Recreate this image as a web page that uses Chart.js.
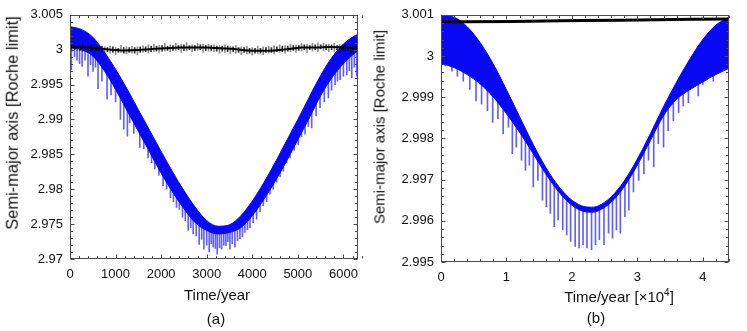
<!DOCTYPE html>
<html>
<head>
<meta charset="utf-8">
<script src="https://cdn.jsdelivr.net/npm/chart.js@4.4.0/dist/chart.umd.min.js"></script>
<style>
  body { margin: 0; background: #fff; width: 747px; height: 331px; position: relative; overflow: hidden;
         font-family: "Liberation Sans", Arial, Helvetica, sans-serif; color: #111; }
  canvas { position: absolute; top: 0; }
  .lbl { position: absolute; white-space: nowrap; transform: translate(-50%, -50%); line-height: 1; }
  .rot { transform: translate(-50%, -50%) rotate(-90deg); }
  sup { font-size: 10px; vertical-align: 6px; line-height: 0; }
</style>
</head>
<body>
<canvas id="chartA" width="370" height="331" style="left:0"></canvas>
<canvas id="chartB" width="377" height="331" style="left:370px"></canvas>

<div class="lbl rot" style="left:12px;top:123px;font-size:16.5px">Semi-major axis [Roche limit]</div>
<div class="lbl" style="left:217px;top:294px;font-size:15px">Time/year</div>
<div class="lbl" style="left:216px;top:318px;font-size:15px">(a)</div>

<div class="lbl rot" style="left:379px;top:127px;font-size:15px">Semi-major axis [Roche limit]</div>
<div class="lbl" style="left:619px;top:296px;font-size:15px">Time/year [×10<sup>4</sup>]</div>
<div class="lbl" style="left:596px;top:317px;font-size:15px">(b)</div>

<script>
// ---- panel (a): time in years ----
const xTicksA = [0, 1000, 2000, 3000, 4000, 5000, 6000];
const yTicksA = [2.97, 2.975, 2.98, 2.985, 2.99, 2.995, 3, 3.005];

// blue band, top and bottom edge of the dense part
const bandTimeA = [0, 250, 500, 750, 1000, 1250, 1500, 1750, 2000, 2250, 2500, 2750, 3000, 3250,
                   3500, 3750, 4000, 4250, 4500, 4750, 5000, 5250, 5500, 5750, 6000, 6250, 6320];
const bandTopA = [3.0033, 3.0029, 3.0018, 2.9997, 2.9972, 2.9944, 2.9914, 2.9884, 2.9854, 2.9825, 2.9798,
                  2.9774, 2.9755, 2.9747, 2.9749, 2.9762, 2.9783, 2.9809, 2.9838, 2.9869, 2.9900, 2.9932,
                  2.9963, 2.9989, 3.0008, 3.0020, 3.0022];
const bandLowA = [3.0004, 3.0000, 2.9991, 2.9970, 2.9943, 2.9913, 2.9883, 2.9853, 2.9823, 2.9796, 2.9772,
                  2.9752, 2.9741, 2.9736, 2.9738, 2.9745, 2.9762, 2.9785, 2.9811, 2.9840, 2.9871, 2.9902,
                  2.9934, 2.9960, 2.9980, 2.9995, 2.9998];

// blue downward spikes below the band
const spikeTimeA = [30, 100, 155, 210, 265, 330, 395, 450, 505, 560, 615, 700, 813, 900, 1000, 1106, 1180,
  1260, 1311, 1400, 1531, 1620, 1714, 1790, 1860, 1950, 2043, 2120, 2205, 2270, 2337, 2400, 2468, 2530,
  2593, 2650, 2703, 2770, 2835, 2890, 2938, 3000, 3055, 3100, 3143, 3190, 3231, 3280, 3326, 3375, 3421,
  3465, 3509, 3560, 3619, 3675, 3729, 3785, 3839, 3895, 3949, 4020, 4095, 4170, 4242, 4315, 4388, 4460,
  4535, 4610, 4681, 4750, 4828, 4920, 5011, 5080, 5157, 5230, 5304, 5400, 5487, 5580, 5670, 5740, 5817,
  5870, 5927, 6000, 6073, 6130, 6183, 6240, 6293];
const spikeLowA = [2.9971, 2.9990, 2.9985, 2.9980, 2.9976, 2.9985, 2.9962, 2.9978, 2.9969, 2.9975, 2.9944,
  2.9955, 2.9929, 2.9935, 2.9925, 2.9900, 2.9886, 2.9876, 2.9895, 2.9880, 2.9860, 2.9858, 2.9845, 2.9838,
  2.9829, 2.9820, 2.9805, 2.9800, 2.9788, 2.9782, 2.9774, 2.9771, 2.9760, 2.9755, 2.9741, 2.9745, 2.9736,
  2.9733, 2.9721, 2.9728, 2.9714, 2.9720, 2.9710, 2.9722, 2.9717, 2.9715, 2.9707, 2.9716, 2.9714, 2.9720,
  2.9719, 2.9725, 2.9714, 2.9722, 2.9717, 2.9726, 2.9729, 2.9732, 2.9738, 2.9742, 2.9745, 2.9752, 2.9757,
  2.9768, 2.9776, 2.9782, 2.9793, 2.9800, 2.9810, 2.9818, 2.9826, 2.9838, 2.9845, 2.9856, 2.9864, 2.9875,
  2.9879, 2.9890, 2.9888, 2.9905, 2.9917, 2.9925, 2.9931, 2.9942, 2.9950, 2.9955, 2.9957, 2.9962, 2.9964,
  2.9970, 2.9960, 2.9975, 2.9962];
const spikeHighA = [3.0007, 3.0006, 3.0005, 3.0004, 3.0004, 3.0002, 2.9999, 2.9997, 2.9995, 2.9990, 2.9985,
  2.9978, 2.9968, 2.9958, 2.9947, 2.9934, 2.9925, 2.9916, 2.9910, 2.9899, 2.9883, 2.9872, 2.9861, 2.9852,
  2.9844, 2.9833, 2.9823, 2.9814, 2.9805, 2.9799, 2.9792, 2.9786, 2.9780, 2.9774, 2.9769, 2.9764, 2.9760,
  2.9755, 2.9751, 2.9748, 2.9746, 2.9745, 2.9743, 2.9742, 2.9741, 2.9740, 2.9740, 2.9740, 2.9740, 2.9740,
  2.9741, 2.9741, 2.9742, 2.9743, 2.9745, 2.9747, 2.9749, 2.9752, 2.9755, 2.9759, 2.9763, 2.9768, 2.9775,
  2.9782, 2.9789, 2.9796, 2.9804, 2.9812, 2.9821, 2.9829, 2.9836, 2.9844, 2.9853, 2.9864, 2.9875, 2.9883,
  2.9893, 2.9902, 2.9911, 2.9923, 2.9934, 2.9945, 2.9954, 2.9962, 2.9969, 2.9974, 2.9979, 2.9984, 2.9988,
  2.9992, 2.9995, 2.9998, 3.0001];

// black curve: slow core, grey jitter and darker short jitter
const coreTimeA = [0, 300, 600, 900, 1200, 1500, 1800, 2100, 2400, 2700, 3000, 3300, 3600, 3900, 4200,
                   4500, 4800, 5100, 5400, 5700, 6000, 6320];
const coreA = [3.0003, 3.0003, 3.0002, 3.0000, 2.9999, 2.99995, 3.0001, 3.0002, 3.0003, 3.0003, 3.0003,
               3.0002, 3.0001, 2.9999, 2.99985, 2.9999, 3.0001, 3.0003, 3.0003, 3.0004, 3.0003, 3.0002];
const noiseTimeA = [40, 160, 280, 400, 520, 640, 760, 880, 1000, 1120, 1240, 1360, 1480, 1600, 1720, 1840,
  1960, 2080, 2200, 2320, 2440, 2560, 2680, 2800, 2920, 3040, 3160, 3280, 3400, 3520, 3640, 3760, 3880,
  4000, 4120, 4240, 4360, 4480, 4600, 4720, 4840, 4960, 5080, 5200, 5320, 5440, 5560, 5680, 5800, 5920,
  6040, 6160, 6280];
const noiseLowA = [2.9998, 2.9999, 2.9997, 3.0000, 2.9996, 2.9998, 2.9994, 2.9995, 2.9993, 2.9996, 2.9994,
  2.9995, 2.9993, 2.9996, 2.9995, 2.9997, 2.9996, 2.9998, 2.9997, 2.9999, 2.9996, 2.9998, 2.9997, 2.9999,
  2.9996, 2.9998, 2.9997, 2.9995, 2.9996, 2.9994, 2.9995, 2.9993, 2.9994, 2.9992, 2.9994, 2.9993, 2.9995,
  2.9994, 2.9996, 2.9995, 2.9997, 2.9996, 2.9998, 2.9996, 2.9998, 2.9997, 2.9999, 2.9997, 2.9998, 2.9996,
  2.9997, 2.9995, 2.9996];
const noiseHighA = [3.0007, 3.0006, 3.0008, 3.0006, 3.0007, 3.0005, 3.0004, 3.0005, 3.0003, 3.0006, 3.0004,
  3.0005, 3.0004, 3.0006, 3.0007, 3.0008, 3.0006, 3.0009, 3.0007, 3.0009, 3.0008, 3.0010, 3.0007, 3.0009,
  3.0008, 3.0008, 3.0007, 3.0006, 3.0007, 3.0005, 3.0006, 3.0004, 3.0005, 3.0003, 3.0005, 3.0004, 3.0005,
  3.0006, 3.0007, 3.0006, 3.0008, 3.0007, 3.0009, 3.0008, 3.0009, 3.0010, 3.0009, 3.0008, 3.0009, 3.0007,
  3.0008, 3.0006, 3.0007];
const jitterTimeA = [100, 220, 340, 460, 580, 700, 820, 940, 1060, 1180, 1300, 1420, 1540, 1660, 1780, 1900,
  2020, 2140, 2260, 2380, 2500, 2620, 2740, 2860, 2980, 3100, 3220, 3340, 3460, 3580, 3700, 3820, 3940,
  4060, 4180, 4300, 4420, 4540, 4660, 4780, 4900, 5020, 5140, 5260, 5380, 5500, 5620, 5740, 5860, 5980,
  6100, 6220];
const jitterLowA = [3.0000, 2.9999, 3.0000, 2.9998, 2.9999, 2.9997, 2.9997, 2.9996, 2.9996, 2.9995, 2.9996,
  2.9995, 2.9996, 2.9997, 2.9997, 2.9998, 2.9998, 2.9999, 2.9999, 3.0000, 2.9999, 3.0000, 2.9999, 3.0000,
  2.9999, 2.9999, 2.9998, 2.9998, 2.9997, 2.9997, 2.9996, 2.9996, 2.9995, 2.9995, 2.9995, 2.9996, 2.9996,
  2.9997, 2.9997, 2.9998, 2.9999, 2.9999, 3.0000, 3.0000, 3.0000, 3.0001, 3.0000, 3.0000, 3.0000, 2.9999,
  2.9999, 2.9998];
const jitterHighA = [3.0006, 3.0006, 3.0005, 3.0006, 3.0005, 3.0005, 3.0003, 3.0004, 3.0002, 3.0003, 3.0003,
  3.0003, 3.0004, 3.0004, 3.0005, 3.0005, 3.0006, 3.0005, 3.0006, 3.0006, 3.0007, 3.0006, 3.0006, 3.0007,
  3.0006, 3.0006, 3.0005, 3.0005, 3.0005, 3.0004, 3.0003, 3.0003, 3.0002, 3.0002, 3.0002, 3.0003, 3.0003,
  3.0004, 3.0005, 3.0005, 3.0006, 3.0006, 3.0007, 3.0006, 3.0007, 3.0007, 3.0007, 3.0007, 3.0006, 3.0006,
  3.0005, 3.0005];

// ---- panel (b): time in units of 10^4 years ----
const xTicksB = [0, 1, 2, 3, 4];
const yTicksB = [2.995, 2.996, 2.997, 2.998, 2.999, 3, 3.001];

const bandTimeB = [0, 0.2, 0.4, 0.6, 0.8, 1.0, 1.2, 1.4, 1.6, 1.8, 2.0, 2.2, 2.3, 2.4, 2.6, 2.8, 3.0, 3.2,
                   3.4, 3.6, 3.8, 4.0, 4.2, 4.4];
const bandTopB = [3.00098, 3.00094, 3.00071, 3.00032, 2.99980, 2.99918, 2.99853, 2.99788, 2.99730, 2.99683,
  2.99650, 2.99634, 2.99633, 2.99636, 2.99658, 2.99697, 2.99750, 2.99812, 2.99877, 2.99937, 2.99992,
  3.00040, 3.00075, 3.00094];
const bandLowB = [2.99982, 2.99972, 2.99955, 2.99932, 2.99900, 2.99860, 2.99815, 2.99765, 2.99714, 2.99670,
  2.99638, 2.99622, 2.99621, 2.99624, 2.99645, 2.99683, 2.99735, 2.99795, 2.99855, 2.99895, 2.99918,
  2.99937, 2.99955, 2.99970];

const spikeTimeB = [0.066, 0.167, 0.25, 0.34, 0.44, 0.535, 0.62, 0.71, 0.79, 0.87, 0.95, 1.03, 1.09, 1.15,
  1.23, 1.29, 1.35, 1.41, 1.48, 1.55, 1.61, 1.67, 1.73, 1.79, 1.86, 1.92, 1.98, 2.05, 2.11, 2.17, 2.23,
  2.30, 2.36, 2.42, 2.49, 2.56, 2.62, 2.68, 2.74, 2.81, 2.87, 2.94, 3.02, 3.10, 3.17, 3.25, 3.32, 3.40,
  3.47, 3.55, 3.63, 3.70, 3.78, 3.85, 3.93, 4.0, 4.08, 4.16, 4.23, 4.31, 4.36];
const spikeLowB = [2.99976, 2.99963, 2.99951, 2.99939, 2.99919, 2.99891, 2.99883, 2.99867, 2.99839, 2.99847,
  2.99811, 2.99827, 2.99763, 2.99779, 2.99747, 2.99722, 2.99735, 2.99682, 2.99698, 2.99650, 2.99634,
  2.99618, 2.99586, 2.99602, 2.99578, 2.99566, 2.99550, 2.99538, 2.99534, 2.99542, 2.99534, 2.99530,
  2.99542, 2.99554, 2.99542, 2.99570, 2.99558, 2.99578, 2.99570, 2.99610, 2.99626, 2.99670, 2.99698,
  2.99714, 2.99747, 2.99731, 2.99787, 2.99779, 2.99819, 2.99843, 2.99863, 2.99879, 2.99887, 2.99923,
  2.99903, 2.99931, 2.99947, 2.99939, 2.99959, 2.99967, 2.99975];
const spikeHighB = [2.99985, 2.99978, 2.99972, 2.99965, 2.99957, 2.99947, 2.99935, 2.99922, 2.99908,
  2.99893, 2.99876, 2.99860, 2.99848, 2.99834, 2.99815, 2.99800, 2.99785, 2.99770, 2.99752, 2.99735,
  2.99720, 2.99705, 2.99692, 2.99680, 2.99668, 2.99658, 2.99648, 2.99640, 2.99635, 2.99632, 2.99630,
  2.99630, 2.99631, 2.99634, 2.99640, 2.99647, 2.99655, 2.99665, 2.99675, 2.99690, 2.99704, 2.99722,
  2.99745, 2.99768, 2.99790, 2.99815, 2.99838, 2.99862, 2.99880, 2.99895, 2.99905, 2.99915, 2.99925,
  2.99932, 2.99940, 2.99946, 2.99952, 2.99958, 2.99962, 2.99968, 2.99972];

const coreTimeB = [0, 1.1, 2.2, 3.3, 4.4];
const coreB = [3.00083, 3.00084, 3.00086, 3.00088, 3.00090];

// ---- helpers ----
const FONT = '"Liberation Sans", Arial, Helvetica, sans-serif';
const BLUE = 'rgb(8, 8, 245)';

function pts(xs, ys) {
    return xs.map((x, i) => ({ x: x, y: ys[i] }));
}
function bars(xs, lows, highs) {
    if (!xs) return [];
    return xs.map((x, i) => ({ x: x, y: [lows[i], highs[i]] }));
}
function trimNum(v) {
    return String(Number(v.toFixed(4)));
}

// box frame with inward ticks on all four sides
const framePlugin = {
    id: 'frame',
    afterDatasetsDraw(chart) {
        const { ctx, chartArea: a, scales } = chart;
        const o = chart.options.plugins.frame;
        ctx.save();
        ctx.strokeStyle = '#4a4a4a';
        ctx.lineWidth = 1;
        ctx.beginPath();
        const l = Math.round(a.left) + 0.5, r = Math.round(a.right) - 0.5;
        const t = Math.round(a.top) + 0.5, b = Math.round(a.bottom) - 0.5;
        const xs = scales.x;
        const nx = Math.round((xs.max - xs.min) / o.xMinor);
        for (let i = 0; i <= nx; i++) {
            const v = xs.min + i * o.xMinor;
            const k = v / o.xMajor;
            const len = Math.abs(k - Math.round(k)) < 1e-6 ? 4 : 2.5;
            const px = Math.round(xs.getPixelForValue(v)) + 0.5;
            ctx.moveTo(px, b); ctx.lineTo(px, b - len);
            ctx.moveTo(px, t); ctx.lineTo(px, t + len);
        }
        const ys = scales.y;
        const ny = Math.round((ys.max - ys.min) / o.yMinor);
        for (let i = 0; i <= ny; i++) {
            const v = ys.min + i * o.yMinor;
            const k = (v - ys.min) / o.yMajor;
            const len = Math.abs(k - Math.round(k)) < 1e-6 ? 4 : 2.5;
            const py = Math.round(ys.getPixelForValue(v)) + 0.5;
            ctx.moveTo(l, py); ctx.lineTo(l + len, py);
            ctx.moveTo(r, py); ctx.lineTo(r - len, py);
        }
        ctx.stroke();
        ctx.strokeRect(l, t, r - l, b - t);
        ctx.restore();
    }
};

function makeChart(id, cfg) {
    return new Chart(document.getElementById(id), {
        type: 'line',
        data: {
            datasets: [
                { data: pts(cfg.coreTime, cfg.core), borderColor: '#000', borderWidth: cfg.coreWidth,
                  pointRadius: 0, fill: false, order: 0, cubicInterpolationMode: 'monotone' },
                { type: 'bar', data: bars(cfg.jitterTime, cfg.jitterLow, cfg.jitterHigh),
                  backgroundColor: 'rgba(0,0,0,0.8)', barThickness: 1, grouped: false, order: 1 },
                { type: 'bar', data: bars(cfg.noiseTime, cfg.noiseLow, cfg.noiseHigh),
                  backgroundColor: 'rgba(0,0,0,0.45)', barThickness: 1, grouped: false, order: 1 },
                { data: pts(cfg.bandTime, cfg.bandTop), borderColor: BLUE, backgroundColor: BLUE,
                  borderWidth: 1, pointRadius: 0, fill: '+1', order: 2, cubicInterpolationMode: 'monotone' },
                { data: pts(cfg.bandTime, cfg.bandLow), borderColor: BLUE, borderWidth: 1,
                  pointRadius: 0, fill: false, order: 2, cubicInterpolationMode: 'monotone' },
                { type: 'bar', data: bars(cfg.spikeTime, cfg.spikeLow, cfg.spikeHigh),
                  backgroundColor: 'rgba(20,20,255,0.68)', barThickness: 1, grouped: false, order: 3 }
            ]
        },
        options: {
            responsive: false,
            animation: false,
            devicePixelRatio: 1,
            layout: { padding: cfg.padding },
            plugins: {
                legend: { display: false },
                tooltip: { enabled: false },
                frame: { xMajor: cfg.xMajor, xMinor: cfg.xMinor, yMajor: cfg.yMajor, yMinor: cfg.yMinor }
            },
            scales: {
                x: {
                    type: 'linear', min: cfg.xMin, max: cfg.xMax, offset: false,
                    grid: { display: false, drawTicks: false }, border: { display: false },
                    ticks: { font: { family: FONT, size: 13 }, color: '#111', padding: 8,
                             maxRotation: 0, autoSkip: false, callback: v => String(v) },
                    afterBuildTicks: s => { s.ticks = cfg.xTicks.map(v => ({ value: v })); },
                    afterFit: s => { s.height = cfg.xHeight; }
                },
                y: {
                    type: 'linear', min: cfg.yMin, max: cfg.yMax,
                    grid: { display: false, drawTicks: false }, border: { display: false },
                    ticks: { font: { family: FONT, size: 13 }, color: '#111', padding: 7,
                             autoSkip: false, callback: v => trimNum(v) },
                    afterBuildTicks: s => { s.ticks = cfg.yTicks.map(v => ({ value: v })); },
                    afterFit: s => { s.width = cfg.yWidth; }
                }
            }
        },
        plugins: [framePlugin]
    });
}

makeChart('chartA', {
    coreTime: coreTimeA, core: coreA, coreWidth: 2,
    noiseTime: noiseTimeA, noiseLow: noiseLowA, noiseHigh: noiseHighA,
    jitterTime: jitterTimeA, jitterLow: jitterLowA, jitterHigh: jitterHighA,
    bandTime: bandTimeA, bandTop: bandTopA, bandLow: bandLowA,
    spikeTime: spikeTimeA, spikeLow: spikeLowA, spikeHigh: spikeHighA,
    xTicks: xTicksA, yTicks: yTicksA,
    xMin: 0, xMax: 6320, yMin: 2.97, yMax: 3.005,
    xMajor: 1000, xMinor: 200, yMajor: 0.005, yMinor: 0.001,
    padding: { top: 14, right: 12, bottom: 0, left: 0 }, xHeight: 72, yWidth: 70
});

makeChart('chartB', {
    coreTime: coreTimeB, core: coreB, coreWidth: 3,
    bandTime: bandTimeB, bandTop: bandTopB, bandLow: bandLowB,
    spikeTime: spikeTimeB, spikeLow: spikeLowB, spikeHigh: spikeHighB,
    xTicks: xTicksB, yTicks: yTicksB,
    xMin: 0, xMax: 4.4, yMin: 2.995, yMax: 3.001,
    xMajor: 1, xMinor: 0.2, yMajor: 0.001, yMinor: 0.0002,
    padding: { top: 13, right: 18, bottom: 0, left: 0 }, xHeight: 69, yWidth: 71
});
</script>
</body>
</html>
